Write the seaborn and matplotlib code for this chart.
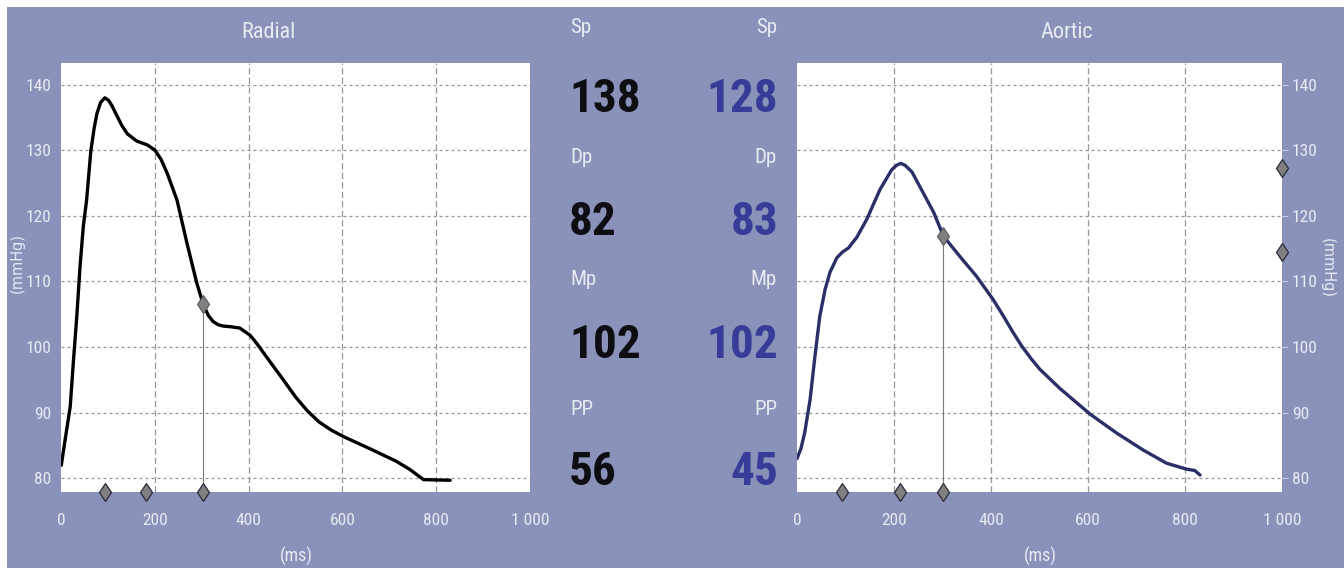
import numpy as np
import matplotlib
matplotlib.use("Agg")
import matplotlib.pyplot as plt
from matplotlib.patches import Rectangle
from matplotlib.transforms import blended_transform_factory
import seaborn as sns

# ---------------- data ----------------
radial_ms = [0, 8, 19, 26, 33, 40, 47, 54, 63, 70, 76, 84, 93, 101, 108, 117,
             129, 141, 161, 184, 200, 213, 226, 247, 268, 289, 303, 314, 324,
             335, 346, 362, 381, 403, 420, 438, 474, 500, 525, 550, 575, 601,
             662, 715, 745, 773, 830]
radial_mmHg = [82.0, 85.8, 90.9, 98.0, 104.6, 112.3, 118.4, 122.4, 129.9, 133.3,
               135.6, 137.3, 138.0, 137.6, 136.8, 135.5, 133.8, 132.5, 131.4,
               130.8, 130.0, 128.6, 126.5, 122.4, 115.9, 109.8, 106.5, 104.8,
               103.9, 103.4, 103.2, 103.1, 102.9, 101.8, 100.3, 98.5, 95.0, 92.4,
               90.3, 88.6, 87.4, 86.4, 84.4, 82.6, 81.3, 79.8, 79.7]

aortic_ms = [0, 8, 16, 27, 37, 47, 58, 68, 82, 94, 106, 123, 144, 171, 195, 205,
             214, 223, 237, 261, 282, 302, 336, 370, 404, 425, 445, 463, 482,
             501, 542, 604, 659, 714, 762, 803, 820, 831]
aortic_mmHg = [83.0, 84.5, 87.0, 92.0, 98.6, 104.7, 108.8, 111.4, 113.6, 114.5,
               115.1, 116.7, 119.5, 124.0, 127.0, 127.7, 128.0, 127.7, 126.7,
               123.4, 120.5, 116.9, 113.8, 110.8, 107.3, 104.8, 102.3, 100.2,
               98.3, 96.6, 93.7, 89.8, 86.9, 84.3, 82.3, 81.4, 81.2, 80.5]

radial_marks_ms = [93, 180, 303]
aortic_marks_ms = [92, 212, 302]
radial_cursor_ms = 303
aortic_cursor_ms = 302
aortic_side_marks = [127.3, 114.5]

param_names = ["Sp", "Dp", "Mp", "PP"]
radial_params = [138, 82, 102, 56]
aortic_params = [128, 83, 102, 45]

x_ticks = [0, 200, 400, 600, 800, 1000]
x_tick_labels = ["0", "200", "400", "600", "800", "1 000"]
y_ticks = [80, 90, 100, 110, 120, 130, 140]

# ---------------- style ----------------
BG = "#8a92ba"
LIGHT = "#e8eaf4"
TICK_COL = "#c9cde2"
GRID = "#979797"
RADIAL_COL = "#000000"
AORTIC_COL = "#2c2e68"
AORTIC_TXT = "#383c98"

sns.set_theme(style="white")
NARROW = ["Roboto Condensed", "Liberation Sans Narrow", "DejaVu Sans"]
plt.rcParams["font.family"] = NARROW
plt.rcParams["font.stretch"] = "condensed"

W, H = 1344, 571
fig = plt.figure(figsize=(W / 100, H / 100), dpi=100, facecolor="white")
fig.patches.append(Rectangle((7 / W, 3 / H), 1 - 7 / W, (H - 10) / H,
                             transform=fig.transFigure, facecolor=BG,
                             edgecolor="none", zorder=-10))


def px_box(x0, x1, y_top, y_bot):
    return [x0 / W, 1 - y_bot / H, (x1 - x0) / W, (y_bot - y_top) / H]


def fx(x):
    return x / W


def fy(y):
    return 1 - y / H


YLIM = (77.96, 143.3)


def setup_axes(ax, right=False):
    ax.set_facecolor("white")
    ax.set_xlim(0, 1000)
    ax.set_ylim(*YLIM)
    for s in ax.spines.values():
        s.set_visible(False)
    ax.set_xticks(x_ticks)
    ax.set_xticklabels(x_tick_labels)
    ax.set_yticks(y_ticks)
    ax.set_yticklabels([str(v) for v in y_ticks])
    if right:
        ax.yaxis.tick_right()
    ax.tick_params(axis="both", which="major", direction="out", length=4,
                   width=0.8, color=TICK_COL, labelcolor=LIGHT, labelsize=12.5)
    ax.tick_params(axis="x", pad=11)
    ax.tick_params(axis="y", pad=3)
    ax.set_xlabel("")
    ax.set_ylabel("")


def draw_grid(ax):
    for x in x_ticks[1:-1]:
        ax.axvline(x, color=GRID, lw=0.9, ls=(0, (5, 2.6)), zorder=1)
    for y in y_ticks:
        ax.axhline(y, color=GRID, lw=0.9, ls=(0, (2.4, 2.4)), zorder=1)


def draw_markers(ax, marks_ms, curve_ms, curve_p, cursor_ms):
    bottom = blended_transform_factory(ax.transData, ax.transAxes)
    ax.plot(marks_ms, [0] * len(marks_ms), ls="none", marker="d", ms=9.5,
            mfc="#808080", mec="#2a2a3a", mew=0.9, transform=bottom,
            clip_on=False, zorder=6)
    p_at = float(np.interp(cursor_ms, curve_ms, curve_p))
    ax.plot([cursor_ms, cursor_ms], [YLIM[0], p_at], color="#7a7a7a", lw=0.8,
            zorder=3)
    ax.plot([cursor_ms], [p_at], ls="none", marker="d", ms=9.5, mfc="#808080",
            mec="#555560", mew=0.8, zorder=6)


# ---------------- radial panel ----------------
ax_r = fig.add_axes(px_box(61.3, 529.8, 63, 491.7))
draw_grid(ax_r)
sns.lineplot(x=radial_ms, y=radial_mmHg, ax=ax_r, color=RADIAL_COL, lw=2.4,
             estimator=None, sort=False, zorder=4, solid_joinstyle="round",
             solid_capstyle="round")
draw_markers(ax_r, radial_marks_ms, radial_ms, radial_mmHg, radial_cursor_ms)
setup_axes(ax_r)

# ---------------- aortic panel ----------------
ax_a = fig.add_axes(px_box(797, 1282, 63, 491.7))
draw_grid(ax_a)
sns.lineplot(x=aortic_ms, y=aortic_mmHg, ax=ax_a, color=AORTIC_COL, lw=2.4,
             estimator=None, sort=False, zorder=4, solid_joinstyle="round",
             solid_capstyle="round")
draw_markers(ax_a, aortic_marks_ms, aortic_ms, aortic_mmHg, aortic_cursor_ms)
side = blended_transform_factory(ax_a.transAxes, ax_a.transData)
ax_a.plot([1] * len(aortic_side_marks), aortic_side_marks, ls="none",
          marker="d", ms=9.5, mfc="#808080", mec="#2a2a3a", mew=0.9,
          transform=side, clip_on=False, zorder=6)
setup_axes(ax_a, right=True)

# ---------------- titles and axis captions ----------------
fig.text(fx(268), fy(38), "Radial", ha="center", va="baseline", fontsize=16,
         color=LIGHT)
fig.text(fx(1067), fy(38), "Aortic", ha="center", va="baseline", fontsize=16,
         color=LIGHT)
fig.text(fx(296), fy(556), "(ms)", ha="center", va="center", fontsize=13,
         color=LIGHT)
fig.text(fx(1040), fy(556), "(ms)", ha="center", va="center", fontsize=13,
         color=LIGHT)
fig.text(fx(17), fy(263), "(mmHg)", ha="center", va="center", rotation=90,
         fontsize=10.5, color=LIGHT, family="DejaVu Sans", fontstretch="normal")
fig.text(fx(1327), fy(268), "(mmHg)", ha="center", va="center", rotation=270,
         fontsize=10.5, color=LIGHT, family="DejaVu Sans", fontstretch="normal")

# ---------------- parameter readouts ----------------
label_base = [33, 163, 285, 415]
value_base = [112, 235, 358, 485]
for name, lb, vb, rv, av in zip(param_names, label_base, value_base,
                                radial_params, aortic_params):
    fig.text(fx(570), fy(lb), name, ha="left", va="baseline", fontsize=15,
             color=LIGHT)
    fig.text(fx(777), fy(lb), name, ha="right", va="baseline", fontsize=15,
             color=LIGHT)
    fig.text(fx(569), fy(vb), str(rv), ha="left", va="baseline", fontsize=34,
             fontweight="bold", color="#0d0d12")
    fig.text(fx(778), fy(vb), str(av), ha="right", va="baseline", fontsize=34,
             fontweight="bold", color=AORTIC_TXT)

fig.savefig("out.png", dpi=100, facecolor=fig.get_facecolor())
